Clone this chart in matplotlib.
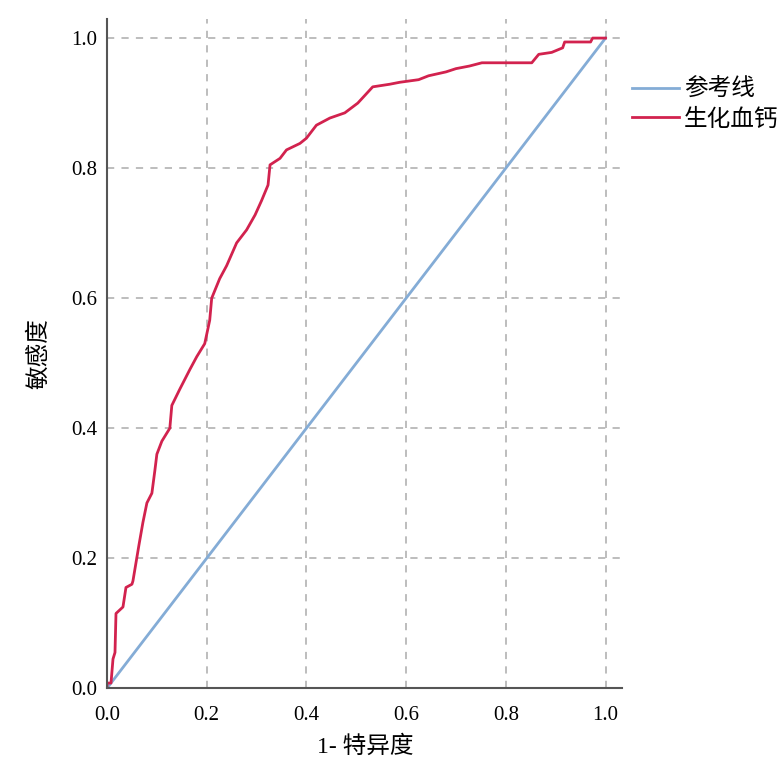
import matplotlib.pyplot as plt

plt.rcParams['font.family'] = ['Liberation Serif', 'Noto Sans CJK SC']

# ROC curve points
fpr = [0.0, 0.0, 0.008, 0.012, 0.016, 0.018, 0.032, 0.038, 0.05, 0.052,
       0.064, 0.072, 0.08, 0.09, 0.096, 0.10, 0.11, 0.126, 0.13, 0.146,
       0.166, 0.18, 0.196, 0.206, 0.21, 0.226, 0.24, 0.26, 0.28, 0.297,
       0.31, 0.323, 0.327, 0.347, 0.36, 0.387, 0.40, 0.42, 0.447, 0.477,
       0.503, 0.533, 0.567, 0.587, 0.625, 0.645, 0.68, 0.70, 0.727, 0.752,
       0.852, 0.866, 0.892, 0.914, 0.918, 0.97, 0.974, 1.0]
tpr = [0.0, 0.008, 0.008, 0.045, 0.055, 0.115, 0.125, 0.155, 0.16, 0.165,
       0.22, 0.255, 0.285, 0.30, 0.335, 0.36, 0.38, 0.40, 0.435, 0.46,
       0.49, 0.51, 0.53, 0.566, 0.60, 0.63, 0.65, 0.685, 0.705, 0.728,
       0.75, 0.774, 0.805, 0.815, 0.828, 0.838, 0.846, 0.866, 0.877, 0.885,
       0.90, 0.925, 0.929, 0.932, 0.936, 0.942, 0.948, 0.953, 0.957, 0.962,
       0.962, 0.975, 0.978, 0.985, 0.994, 0.994, 1.0, 1.0]

ref_x = [0.0, 1.0]
ref_y = [0.0, 1.0]

ticks = [0.0, 0.2, 0.4, 0.6, 0.8, 1.0]
tick_labels = ['0.0', '0.2', '0.4', '0.6', '0.8', '1.0']

fig = plt.figure(figsize=(7.84, 7.69), dpi=100)
ax = fig.add_axes([0.1365, 0.105, 0.6575, 0.870])

ax.plot(ref_x, ref_y, color='#84acd6', lw=2, label='参考线')
ax.plot(fpr, tpr, color='#d2224e', lw=2, label='生化血钙')

ax.set_xlim(0, 1.034)
ax.set_ylim(0, 1.029)
ax.set_xticks(ticks)
ax.set_xticklabels(tick_labels)
ax.set_yticks(ticks)
ax.set_yticklabels(tick_labels)
ax.tick_params(length=0, labelsize=15)
ax.tick_params(axis='x', pad=13)
ax.tick_params(axis='y', pad=7)

# dashed grid, skip 0
for t in ticks[1:]:
    ax.axvline(t, color='#b8b8b8', ls=(0, (4, 4)), lw=1.3, zorder=0)
    ax.axhline(t, color='#b8b8b8', ls=(0, (4, 4)), lw=1.3, zorder=0)

ax.spines['top'].set_visible(False)
ax.spines['right'].set_visible(False)
ax.spines['left'].set_color('#555555')
ax.spines['bottom'].set_color('#555555')
ax.spines['left'].set_linewidth(1.5)
ax.spines['bottom'].set_linewidth(1.5)

ax.set_xlabel('1- 特异度', fontsize=17, labelpad=7)
ax.set_ylabel('敏感度', fontsize=17, labelpad=15)

ax.legend(loc='upper left', bbox_to_anchor=(1.0, 0.925), frameon=False,
          fontsize=17, handlelength=2.0, handletextpad=0.2, labelspacing=0.32,
          borderaxespad=0.0)

fig.savefig('out.png')
